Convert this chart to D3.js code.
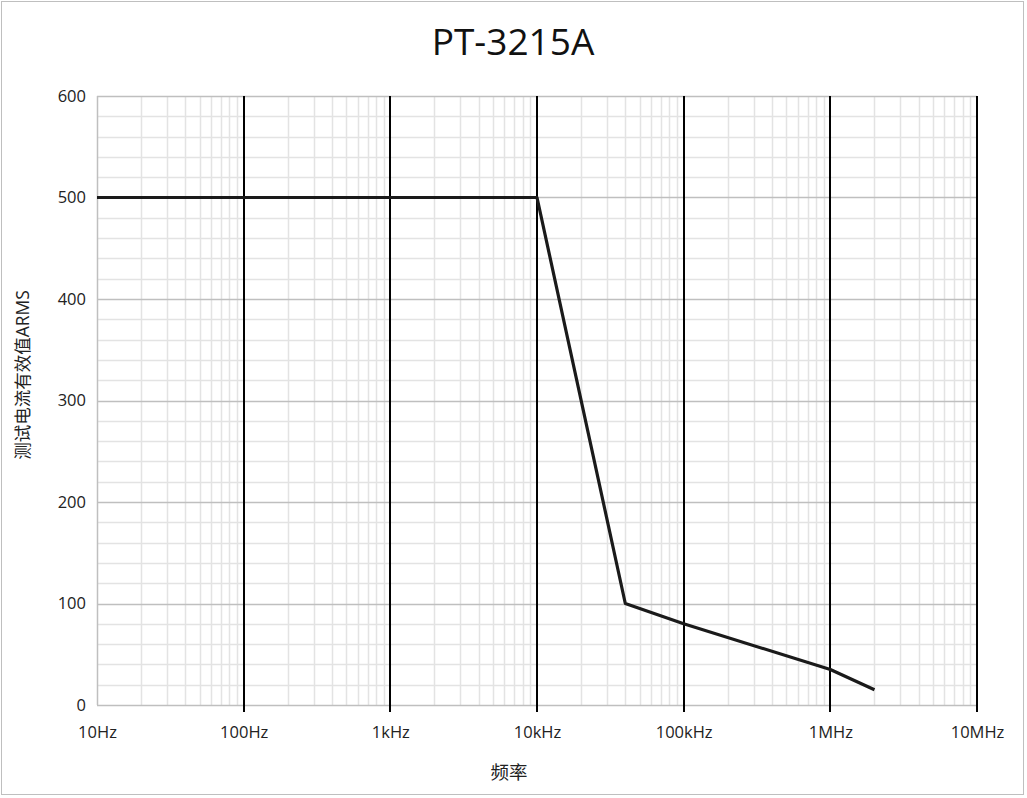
<!DOCTYPE html>
<html>
<head>
<meta charset="utf-8">
<script src="https://cdn.jsdelivr.net/npm/d3@7"></script>
<style>
  body { margin: 0; background: #fff; }
  text { font-family: "Open Sans", "Noto Sans", "Noto Sans CJK SC", sans-serif; }
</style>
</head>
<body>
<svg id="chart"></svg>
<script>
// data
const freqs = [10, 10000, 40000, 100000, 1000000, 2000000];
const currents = [500, 500, 100, 80, 35, 15];
const xTicks = [10, 100, 1e3, 1e4, 1e5, 1e6, 1e7];
const xTickLabels = ["10Hz", "100Hz", "1kHz", "10kHz", "100kHz", "1MHz", "10MHz"];
const yTicks = [0, 100, 200, 300, 400, 500, 600];

const W = 1027, H = 798;
const margin = { top: 96, right: 50, bottom: 93, left: 97 };
const width = W - margin.left - margin.right;
const height = H - margin.top - margin.bottom;

const svg = d3.select("#chart").attr("width", W).attr("height", H);

// outer border
svg.append("rect")
    .attr("x", 1.5).attr("y", 1.5)
    .attr("width", 1022).attr("height", 793)
    .attr("fill", "#fff").attr("stroke", "#bfbfbf").attr("stroke-width", 1);

const g = svg.append("g").attr("transform", `translate(${margin.left},${margin.top})`);

const x = d3.scaleLog().domain([10, 1e7]).range([0, width]);
const y = d3.scaleLinear().domain([0, 600]).range([height, 0]);

// minor vertical grid (2..9 per decade)
const minorX = [];
for (let d = 10; d < 1e7; d *= 10) {
    for (let k = 2; k <= 9; k++) minorX.push(d * k);
}
g.append("g").selectAll("line").data(minorX).join("line")
    .attr("x1", d => Math.round(x(d)) + 0.5).attr("x2", d => Math.round(x(d)) + 0.5)
    .attr("y1", 0).attr("y2", height)
    .attr("stroke", "#e3e3e3").attr("stroke-width", 1.5);

// minor horizontal grid
const minorY = d3.range(0, 601, 20).filter(v => v % 100 !== 0);
g.append("g").selectAll("line").data(minorY).join("line")
    .attr("x1", 0).attr("x2", width)
    .attr("y1", d => Math.round(y(d)) + 0.5).attr("y2", d => Math.round(y(d)) + 0.5)
    .attr("stroke", "#e3e3e3").attr("stroke-width", 1.5);

// major horizontal grid
g.append("g").selectAll("line").data(yTicks).join("line")
    .attr("x1", 0).attr("x2", width)
    .attr("y1", d => Math.round(y(d)) + 0.5).attr("y2", d => Math.round(y(d)) + 0.5)
    .attr("stroke", "#bfbfbf").attr("stroke-width", 1.5);

// left axis line
g.append("line")
    .attr("x1", 0.5).attr("x2", 0.5).attr("y1", 0).attr("y2", height)
    .attr("stroke", "#bfbfbf").attr("stroke-width", 1.5);

// major vertical grid (black, extends as tick)
g.append("g").selectAll("line").data(xTicks.slice(1)).join("line")
    .attr("x1", d => Math.round(x(d)))
    .attr("x2", d => Math.round(x(d)))
    .attr("y1", 0).attr("y2", height + 7)
    .attr("stroke", "#000").attr("stroke-width", 2);

// x axis labels
const xAxis = g.append("g").attr("transform", `translate(0,${height})`)
    .call(d3.axisBottom(x).tickValues(xTicks).tickFormat((d, i) => xTickLabels[i]).tickSize(0).tickPadding(21));
xAxis.select(".domain").remove();
xAxis.selectAll("text").attr("font-size", 16.5).attr("fill", "#222")
    .attr("font-family", "'Open Sans', sans-serif");

// y axis labels
const yAxis = g.append("g")
    .call(d3.axisLeft(y).tickValues(yTicks).tickSize(0).tickPadding(11));
yAxis.select(".domain").remove();
yAxis.selectAll("text").attr("font-size", 16.5).attr("fill", "#222")
    .attr("font-family", "'Open Sans', sans-serif");

// data line
const line = d3.line().x((d, i) => x(freqs[i])).y(d => y(d));
g.append("path")
    .datum(currents)
    .attr("d", line)
    .attr("fill", "none")
    .attr("stroke", "#1a1a1a")
    .attr("stroke-width", 3.2)
    .attr("stroke-linejoin", "round");

// title
svg.append("text")
    .attr("x", 513).attr("y", 55)
    .attr("text-anchor", "middle")
    .attr("font-size", 37)
    .attr("fill", "#111")
    .text("PT-3215A");

// axis titles
svg.append("text")
    .attr("x", 509).attr("y", 779)
    .attr("text-anchor", "middle")
    .attr("font-size", 18.5)
    .attr("font-family", "'Noto Sans CJK SC', sans-serif")
    .attr("fill", "#222")
    .text("频率");

svg.append("text")
    .attr("transform", "translate(29,375) rotate(-90)")
    .attr("text-anchor", "middle")
    .attr("font-size", 17.5)
    .attr("font-family", "'Noto Sans CJK SC', sans-serif")
    .attr("fill", "#222")
    .text("测试电流有效值ARMS");
</script>
</body>
</html>
